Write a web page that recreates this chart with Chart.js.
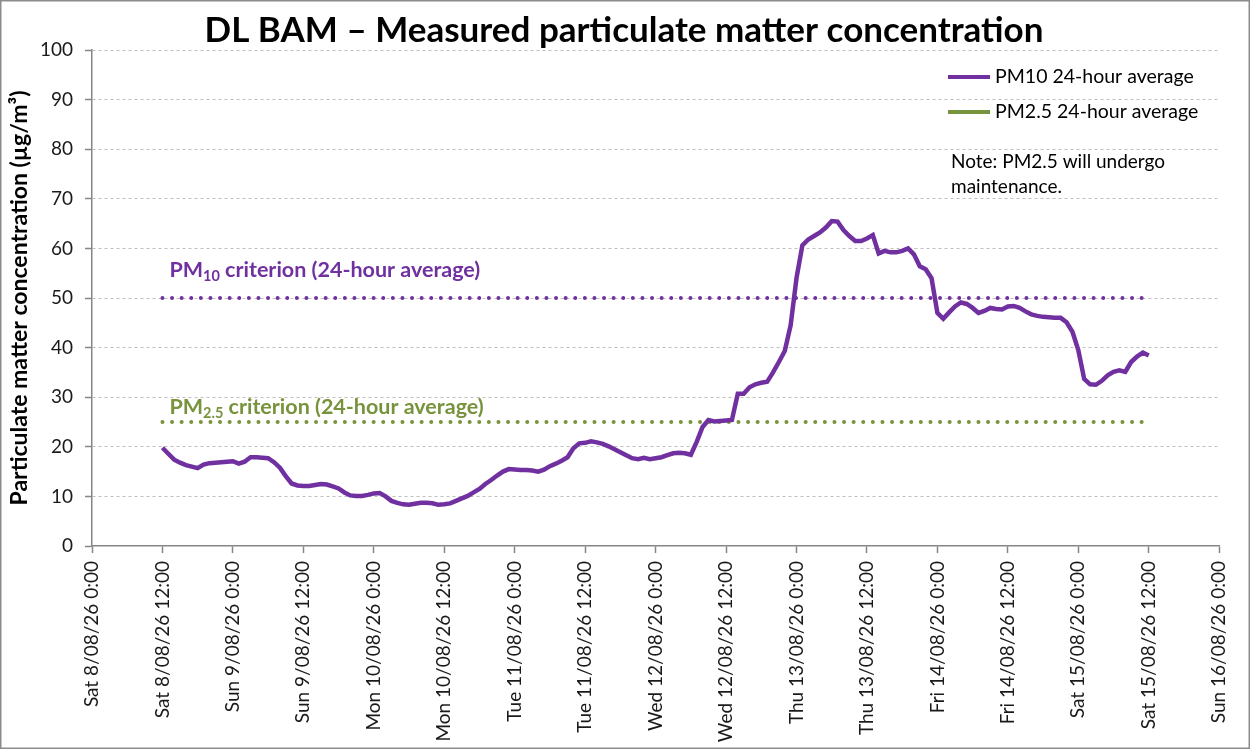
<!DOCTYPE html>
<html>
<head>
<meta charset="utf-8">
<script src="https://cdn.jsdelivr.net/npm/chart.js@4/dist/chart.umd.min.js"></script>
<style>
  html, body { margin: 0; padding: 0; background: #fff; }
  #wrap { width: 1250px; height: 749px; position: relative; }
</style>
</head>
<body>
<div id="wrap"><canvas id="myChart"></canvas></div>
<script>
    // tick labels every 12 hours, x axis is in hours from Sat 8/08/26 0:00
    var xTickLabels = [
        'Sat 8/08/26 0:00', 'Sat 8/08/26 12:00', 'Sun 9/08/26 0:00', 'Sun 9/08/26 12:00',
        'Mon 10/08/26 0:00', 'Mon 10/08/26 12:00', 'Tue 11/08/26 0:00', 'Tue 11/08/26 12:00',
        'Wed 12/08/26 0:00', 'Wed 12/08/26 12:00', 'Thu 13/08/26 0:00', 'Thu 13/08/26 12:00',
        'Fri 14/08/26 0:00', 'Fri 14/08/26 12:00', 'Sat 15/08/26 0:00', 'Sat 15/08/26 12:00',
        'Sun 16/08/26 0:00'
    ];
    var yTicks = [0, 10, 20, 30, 40, 50, 60, 70, 80, 90, 100];

    // PM10 hourly 24-hour average, first value at hour 12 (Sat 12:00)
    var pm10StartHour = 12;
    var pm10Values = [
        19.8, 18.6, 17.4, 16.8, 16.3, 16.0, 15.7, 16.4, 16.7, 16.8, 16.9, 17.0,
        17.1, 16.6, 17.0, 17.9, 17.9, 17.8, 17.7, 16.9, 15.8, 14.1, 12.6, 12.2,
        12.1, 12.1, 12.3, 12.5, 12.4, 12.0, 11.6, 10.8, 10.2, 10.1, 10.1, 10.3,
        10.6, 10.7, 10.0, 9.1, 8.7, 8.4, 8.3, 8.5, 8.7, 8.7, 8.6, 8.3,
        8.4, 8.6, 9.1, 9.6, 10.1, 10.8, 11.5, 12.5, 13.3, 14.2, 15.0, 15.5,
        15.4, 15.3, 15.3, 15.2, 15.0, 15.4, 16.1, 16.6, 17.2, 17.9, 19.7, 20.7,
        20.8, 21.1, 20.9, 20.6, 20.1, 19.5, 18.9, 18.3, 17.7, 17.5, 17.8, 17.5,
        17.7, 17.9, 18.3, 18.7, 18.8, 18.7, 18.4, 21.0, 24.0, 25.4, 25.1, 25.2,
        25.3, 25.4, 30.7, 30.7, 32.0, 32.6, 32.9, 33.1, 35.0, 37.1, 39.3, 44.5,
        54.0, 60.6, 61.8, 62.5, 63.2, 64.2, 65.5, 65.4, 63.7, 62.5, 61.5, 61.5,
        62.0, 62.7, 59.0, 59.5, 59.2, 59.2, 59.5, 60.0, 58.8, 56.4, 55.8, 54.0,
        47.0, 45.8, 47.1, 48.3, 49.1, 48.8, 48.0, 47.0, 47.4, 48.0, 47.8, 47.7,
        48.3, 48.4, 48.0, 47.3, 46.7, 46.4, 46.2, 46.1, 46.0, 46.0, 45.1, 43.2,
        39.5, 33.7, 32.6, 32.5, 33.3, 34.4, 35.1, 35.4, 35.1, 37.1, 38.2, 39.0, 38.4
    ];
    // PM2.5 : pas de données (maintenance)
    var pm25Values = [];

    var pm10Criterion = 50;
    var pm25Criterion = 25;
    var criterionHours = [12, 180];

    var purple = '#7030A0';
    var green = '#77933C';
    var axisGrey = '#868686';
    var fontName = 'Lato, "Open Sans", sans-serif';

    var pm10Data = [];
    for (let i = 0; i < pm10Values.length; i++) {
        pm10Data.push({ x: pm10StartHour + i, y: pm10Values[i] });
    }
    var pm25Data = [];
    for (let i = 0; i < pm25Values.length; i++) {
        pm25Data.push({ x: pm10StartHour + i, y: pm25Values[i] });
    }
    var pm10CritData = criterionHours.map(h => ({ x: h, y: pm10Criterion }));
    var pm25CritData = criterionHours.map(h => ({ x: h, y: pm25Criterion }));

    // texte avec indice (PM10 / PM2.5)
    function drawSubLabel(ctx, x, y, base, sub, rest, color) {
        ctx.fillStyle = color;
        ctx.textBaseline = 'middle';
        ctx.textAlign = 'left';
        ctx.font = 'bold 21.5px ' + fontName;
        ctx.fillText(base, x, y);
        x += ctx.measureText(base).width;
        ctx.font = 'bold 14.5px ' + fontName;
        ctx.fillText(sub, x, y + 6);
        x += ctx.measureText(sub).width;
        ctx.font = 'bold 21.5px ' + fontName;
        ctx.fillText(rest, x, y);
    }

    var decor = {
        id: 'decor',
        beforeDraw(chart) {
            const ctx = chart.ctx;
            ctx.save();
            ctx.fillStyle = '#fff';
            ctx.fillRect(0, 0, chart.width, chart.height);
            ctx.restore();
        },
        afterDraw(chart) {
            const ctx = chart.ctx;
            const xs = chart.scales.x, ys = chart.scales.y;
            ctx.save();
            // cadre
            ctx.strokeStyle = '#8c8c8c';
            ctx.lineWidth = 1.5;
            ctx.strokeRect(0.75, 0.75, chart.width - 1.5, chart.height - 1.5);

            // titre
            ctx.fillStyle = '#000';
            ctx.font = 'bold 35px ' + fontName;
            ctx.textAlign = 'center';
            ctx.textBaseline = 'alphabetic';
            ctx.fillText('DL BAM \u2013 Measured particulate matter concentration', 624, 42);

            // légende
            const ds = chart.data.datasets;
            const legY = [77, 112];
            for (let i = 0; i < 2; i++) {
                ctx.strokeStyle = ds[i].borderColor;
                ctx.lineWidth = 4;
                ctx.beginPath();
                ctx.moveTo(948, legY[i]);
                ctx.lineTo(990, legY[i]);
                ctx.stroke();
                ctx.fillStyle = '#000';
                ctx.font = '19.5px ' + fontName;
                ctx.textAlign = 'left';
                ctx.textBaseline = 'middle';
                ctx.fillText(ds[i].label, 995, legY[i]);
            }
            ctx.font = '19px ' + fontName;
            ctx.fillText('Note: PM2.5 will undergo', 951, 162);
            ctx.fillText('maintenance.', 951, 187);

            // libellés des critères
            const lx = xs.getPixelForValue(criterionHours[0]) + 7;
            drawSubLabel(ctx, lx, ys.getPixelForValue(pm10Criterion) - 28, 'PM', '10', ' criterion (24-hour average)', purple);
            drawSubLabel(ctx, lx, ys.getPixelForValue(pm25Criterion) - 15, 'PM', '2.5', ' criterion (24-hour average)', green);
            ctx.restore();
        }
    };

    var ctx = document.getElementById('myChart').getContext('2d');
    var myChart = new Chart(ctx, {
        type: 'line',
        data: {
            datasets: [{
                label: 'PM10 24-hour average',
                data: pm10Data,
                borderColor: purple,
                borderWidth: 4.5,
                pointRadius: 0,
                tension: 0,
                order: 1
            }, {
                label: 'PM2.5 24-hour average',
                data: pm25Data,
                borderColor: green,
                borderWidth: 4.5,
                pointRadius: 0
            }, {
                label: 'PM10 criterion',
                data: pm10CritData,
                borderColor: purple,
                borderWidth: 4,
                borderDash: [0, 9.6],
                borderCapStyle: 'round',
                pointRadius: 0,
                order: 2
            }, {
                label: 'PM2.5 criterion',
                data: pm25CritData,
                borderColor: green,
                borderWidth: 4,
                borderDash: [0, 9.6],
                borderCapStyle: 'round',
                pointRadius: 0,
                order: 2
            }]
        },
        options: {
            responsive: true,
            maintainAspectRatio: false,
            animation: false,
            devicePixelRatio: 1,
            layout: { padding: { top: 50, right: 30, bottom: 0, left: 0 } },
            plugins: {
                legend: { display: false },
                title: { display: false },
                tooltip: { enabled: false }
            },
            scales: {
                x: {
                    type: 'linear',
                    min: 0,
                    max: 192,
                    afterFit: function (scale) { scale.height = 203; },
                    afterBuildTicks: function (scale) {
                        scale.ticks = xTickLabels.map((l, i) => ({ value: i * 12 }));
                    },
                    ticks: {
                        autoSkip: false,
                        minRotation: 90,
                        maxRotation: 90,
                        padding: 8,
                        color: '#1a1a1a',
                        font: { family: fontName, size: 19 },
                        callback: function (v) { return xTickLabels[Math.round(v / 12)]; }
                    },
                    grid: {
                        drawOnChartArea: false,
                        drawTicks: true,
                        tickLength: 7,
                        tickColor: axisGrey,
                        tickWidth: 1.5
                    },
                    border: { color: axisGrey, width: 1.5 }
                },
                y: {
                    min: 0,
                    max: 100,
                    afterFit: function (scale) { scale.width = 92; },
                    afterBuildTicks: function (scale) {
                        scale.ticks = yTicks.map(v => ({ value: v }));
                    },
                    ticks: {
                        padding: 12,
                        color: '#1a1a1a',
                        font: { family: fontName, size: 19 }
                    },
                    grid: {
                        color: function (c) { return c.tick && c.tick.value === 0 ? 'rgba(0,0,0,0)' : '#bfbfbf'; },
                        lineWidth: 1,
                        drawTicks: true,
                        tickLength: 7,
                        tickColor: axisGrey,
                        tickWidth: 1.5
                    },
                    border: { color: axisGrey, width: 1.5, dash: [3, 3] },
                    title: {
                        display: true,
                        text: 'Particulate matter concentration (\u00b5g/m\u00b3)',
                        color: '#000',
                        font: { family: fontName, size: 23, weight: 'bold' },
                        padding: { top: 6, bottom: 0 }
                    }
                }
            }
        },
        plugins: [decor]
    });
</script>
</body>
</html>
